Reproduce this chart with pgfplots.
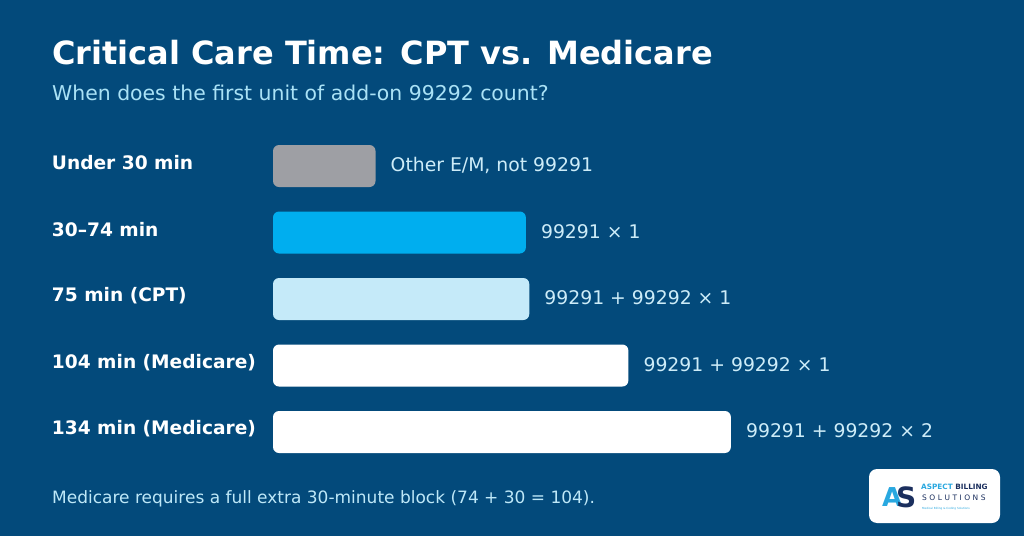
\documentclass[border=0pt]{standalone}
\usepackage{pgfplots}
\pgfplotsset{compat=1.18}
\usepackage{fontspec}
\setmainfont{DejaVu Sans}
\definecolor{bg}{RGB}{3,74,123}
\definecolor{subt}{RGB}{170,226,246}
\definecolor{vallab}{RGB}{205,236,248}
\definecolor{foot}{RGB}{190,232,248}
\definecolor{graybar}{RGB}{158,159,164}
\definecolor{skybar}{RGB}{0,174,239}
\definecolor{lightbar}{RGB}{197,234,249}
\definecolor{logoblue}{RGB}{41,168,224}
\definecolor{logonavy}{RGB}{27,47,94}
\begin{document}
\begin{tikzpicture}[x=1pt,y=1pt]
\fill[bg] (0,0) rectangle (1024,536);
\node[anchor=base west, inner sep=0pt, text=white, font=\fontsize{32}{38}\selectfont\bfseries] at (52,471) {Critical Care Time: CPT vs. Medicare};
\node[anchor=base west, inner sep=0pt, text=subt, font=\fontsize{20.4}{24}\selectfont] at (52,435) {When does the first unit of add-on 99292 count?};
\node[anchor=base west, inner sep=0pt, text=foot, font=\fontsize{17}{20}\selectfont] at (52,33) {Medicare requires a full extra 30-minute block (74 + 30 = 104).};
\begin{axis}[
  at={(273pt,70.75pt)}, anchor=south west,
  scale only axis, width=683.4pt, height=332.5pt,
  xmin=0, xmax=200, ymin=-0.5, ymax=4.5, y dir=reverse,
  clip=false,
  axis line style={draw=none}, tick style={draw=none},
  xtick=\empty, ytick={0,1,2,3,4},
  yticklabels={Under 30 min, 30--74 min, 75 min (CPT), 104 min (Medicare), 134 min (Medicare)},
  yticklabel style={anchor=west, xshift=-217pt, inner sep=0pt, text=white, font=\fontsize{18.6}{21}\selectfont\bfseries, yshift=3pt},
  xbar, bar width=42pt, bar shift=0pt,
  every node near coord/.append style={anchor=west, xshift=15pt, inner sep=0pt, text=vallab, font=\fontsize{18.8}{21}\selectfont, yshift=1pt},
]
\addplot[draw=none, fill=graybar, rounded corners=6pt, nodes near coords={Other E/M, not 99291}] coordinates {(30,0)};
\addplot[draw=none, fill=skybar, rounded corners=6pt, nodes near coords={99291 × 1}] coordinates {(74,1)};
\addplot[draw=none, fill=lightbar, rounded corners=6pt, nodes near coords={99291 + 99292 × 1}] coordinates {(75,2)};
\addplot[draw=none, fill=white, rounded corners=6pt, nodes near coords={99291 + 99292 × 1}] coordinates {(104,3)};
\addplot[draw=none, fill=white, rounded corners=6pt, nodes near coords={99291 + 99292 × 2}] coordinates {(134,4)};
\end{axis}
% logo
\fill[white, rounded corners=8pt] (869,13) rectangle (1000,67);
\node[anchor=base west, inner sep=0pt, text=logoblue, font=\fontsize{26}{26}\selectfont\bfseries] at (882,30) {A};
\node[anchor=base west, inner sep=0pt, text=logonavy, font=\fontsize{28}{28}\selectfont\bfseries] at (896,29) {S};
\node[anchor=base west, inner sep=0pt, font=\fontsize{7.3}{8}\selectfont\bfseries] at (921,47) {\textcolor{logoblue}{ASPECT} \textcolor{logonavy}{BILLING}};
\node[anchor=base west, inner sep=0pt, text=logonavy, font=\fontsize{7.5}{8}\selectfont] at (922,35.5) {S\,\,O\,\,L\,\,U\,\,T\,\,I\,\,O\,\,N\,\,S};
\node[anchor=base west, inner sep=0pt, text=logoblue, font=\fontsize{2.8}{3}\selectfont] at (922,26.5) {Medical Billing \& Coding Solutions};
\end{tikzpicture}
\end{document}
